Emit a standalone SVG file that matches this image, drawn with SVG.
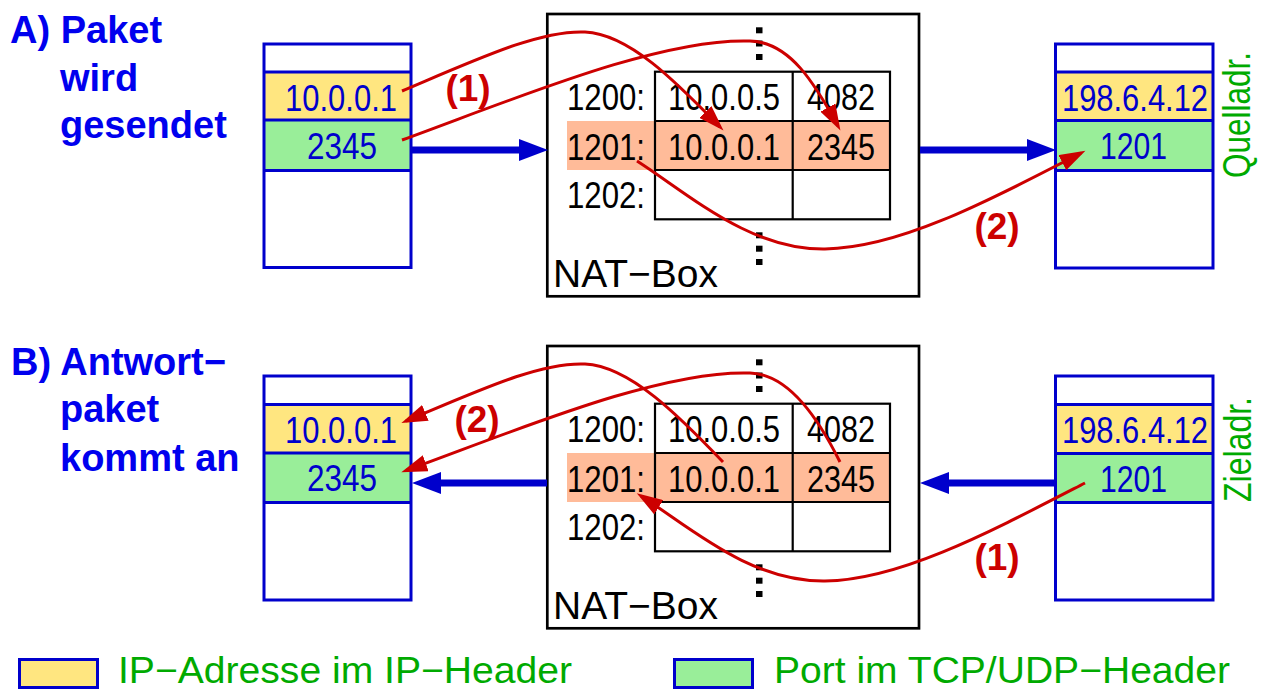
<svg xmlns="http://www.w3.org/2000/svg" width="1266" height="691" viewBox="0 0 1266 691">
  <defs>
    <style>
      .frame{fill:none;stroke:#0000cc;stroke-width:3}
      .sep{stroke:#0000cc;stroke-width:3}
      .ip{fill:#ffe680}
      .port{fill:#99ee99}
      .pv{font-family:"Liberation Sans",Arial,Helvetica,sans-serif;font-size:36px;fill:#0000cc}
      .box{fill:#ffffff;stroke:#000000;stroke-width:2.7}
      .tbl{fill:none;stroke:#000000;stroke-width:2.2}
      .hit{fill:#ffbb99}
      .tv{font-family:"Liberation Sans",Arial,Helvetica,sans-serif;font-size:36px;fill:#000000}
      .boxname{font-family:"Liberation Sans",Arial,Helvetica,sans-serif;font-size:38px;fill:#000000}
      .dot{fill:#000000}
      .title{font-family:"Liberation Sans",Arial,Helvetica,sans-serif;font-size:38px;font-weight:bold;fill:#0000ee}
      .side{font-family:"Liberation Sans",Arial,Helvetica,sans-serif;font-size:38px;fill:#00aa00}
      .legend{font-family:"Liberation Sans",Arial,Helvetica,sans-serif;font-size:37px;fill:#00aa00}
      .flow{fill:none;stroke:#0000cc;stroke-width:7}
      .map{fill:none;stroke:#cc0000;stroke-width:3}
      .step{font-family:"Liberation Sans",Arial,Helvetica,sans-serif;font-size:37px;font-weight:bold;fill:#cc0000;text-anchor:middle}
    </style>
    <marker id="blueHead" markerUnits="userSpaceOnUse" markerWidth="29" markerHeight="22" refX="0" refY="11" orient="auto-start-reverse" viewBox="0 0 29 22">
      <path d="M0,0 L29,11 L0,22 Z" fill="#0000cc"/>
    </marker>
    <marker id="redHead" markerUnits="userSpaceOnUse" markerWidth="27" markerHeight="17" refX="21" refY="8.5" orient="auto-start-reverse" viewBox="0 0 27 17">
      <path d="M0,0 L26,8.5 L0,17 Z" fill="#cc0000"/>
    </marker>
  </defs>

  <rect width="1266" height="691" fill="#ffffff"/>

  <!-- section titles -->
  <g id="title-a">
    <text class="title" x="10" y="43">A) Paket</text>
    <text class="title" x="60" y="91">wird</text>
    <text class="title" x="60" y="138">gesendet</text>
  </g>
  <g id="title-b">
    <text class="title" x="11" y="375">B) Antwort−</text>
    <text class="title" x="60" y="422">paket</text>
    <text class="title" x="60" y="471">kommt an</text>
  </g>

  <!-- A: outgoing packet, private side -->
  <g id="packet-a-inside">
    <rect class="ip" x="264" y="72" width="147" height="48"/>
    <rect class="port" x="264" y="120" width="147" height="50"/>
    <rect class="frame" x="264" y="44" width="147" height="223.5"/>
    <line class="sep" x1="264" y1="72" x2="411" y2="72"/>
    <line class="sep" x1="264" y1="120" x2="411" y2="120"/>
    <line class="sep" x1="264" y1="170.5" x2="411" y2="170.5"/>
    <text class="pv" x="285" y="111" textLength="112" lengthAdjust="spacingAndGlyphs">10.0.0.1</text>
    <text class="pv" x="307" y="159" textLength="70" lengthAdjust="spacingAndGlyphs">2345</text>
  </g>

  <!-- A: NAT translation table -->
  <g id="nat-a">
    <rect class="box" x="547.3" y="14" width="371.7" height="282.3"/>
    <rect class="hit" x="567" y="121" width="323" height="49"/>
    <rect class="tbl" x="655" y="71.7" width="235" height="147.6"/>
    <line class="tbl" x1="792.7" y1="71.7" x2="792.7" y2="219.3"/>
    <line class="tbl" x1="655" y1="121" x2="890" y2="121"/>
    <line class="tbl" x1="655" y1="170" x2="890" y2="170"/>
    <text class="tv" x="567" y="110" textLength="78" lengthAdjust="spacingAndGlyphs">1200:</text>
    <text class="tv" x="567" y="160" textLength="78" lengthAdjust="spacingAndGlyphs">1201:</text>
    <text class="tv" x="567" y="208" textLength="78" lengthAdjust="spacingAndGlyphs">1202:</text>
    <text class="tv" x="668" y="110" textLength="112" lengthAdjust="spacingAndGlyphs">10.0.0.5</text>
    <text class="tv" x="807" y="110" textLength="68" lengthAdjust="spacingAndGlyphs">4082</text>
    <text class="tv" x="668" y="160" textLength="112" lengthAdjust="spacingAndGlyphs">10.0.0.1</text>
    <text class="tv" x="807" y="160" textLength="68" lengthAdjust="spacingAndGlyphs">2345</text>
    <rect class="dot" x="756" y="27.3" width="6.5" height="6"/>
    <rect class="dot" x="756" y="40.5" width="6.5" height="6"/>
    <rect class="dot" x="756" y="54" width="6.5" height="6"/>
    <rect class="dot" x="756" y="232.3" width="6.5" height="6"/>
    <rect class="dot" x="756" y="245.7" width="6.5" height="6"/>
    <rect class="dot" x="756" y="259" width="6.5" height="6"/>
    <text class="boxname" x="553" y="287" textLength="165" lengthAdjust="spacingAndGlyphs">NAT−Box</text>
  </g>

  <!-- A: outgoing packet, public side -->
  <g id="packet-a-outside">
    <rect class="ip" x="1055.5" y="72" width="157.5" height="48.5"/>
    <rect class="port" x="1055.5" y="120.5" width="157.5" height="50"/>
    <rect class="frame" x="1055.5" y="44" width="157.5" height="224"/>
    <line class="sep" x1="1055.5" y1="72" x2="1213" y2="72"/>
    <line class="sep" x1="1055.5" y1="120.5" x2="1213" y2="120.5"/>
    <line class="sep" x1="1055.5" y1="170.5" x2="1213" y2="170.5"/>
    <text class="pv" x="1062" y="111" textLength="146" lengthAdjust="spacingAndGlyphs">198.6.4.12</text>
    <text class="pv" x="1100" y="159" textLength="67" lengthAdjust="spacingAndGlyphs">1201</text>
    <text class="side" transform="translate(1250,178) rotate(-90)" textLength="126" lengthAdjust="spacingAndGlyphs">Quelladr.</text>
  </g>

  <!-- B: reply packet, private side -->
  <g id="packet-b-inside">
    <rect class="ip" x="264" y="404.5" width="147" height="48.5"/>
    <rect class="port" x="264" y="453" width="147" height="49.5"/>
    <rect class="frame" x="264" y="376" width="147" height="224"/>
    <line class="sep" x1="264" y1="404.5" x2="411" y2="404.5"/>
    <line class="sep" x1="264" y1="453" x2="411" y2="453"/>
    <line class="sep" x1="264" y1="502.5" x2="411" y2="502.5"/>
    <text class="pv" x="285" y="443" textLength="112" lengthAdjust="spacingAndGlyphs">10.0.0.1</text>
    <text class="pv" x="307" y="491" textLength="70" lengthAdjust="spacingAndGlyphs">2345</text>
  </g>

  <!-- B: NAT translation table -->
  <g id="nat-b" transform="translate(0,332)">
    <rect class="box" x="547.3" y="14" width="371.7" height="282.3"/>
    <rect class="hit" x="567" y="121" width="323" height="49"/>
    <rect class="tbl" x="655" y="71.7" width="235" height="147.6"/>
    <line class="tbl" x1="792.7" y1="71.7" x2="792.7" y2="219.3"/>
    <line class="tbl" x1="655" y1="121" x2="890" y2="121"/>
    <line class="tbl" x1="655" y1="170" x2="890" y2="170"/>
    <text class="tv" x="567" y="110" textLength="78" lengthAdjust="spacingAndGlyphs">1200:</text>
    <text class="tv" x="567" y="160" textLength="78" lengthAdjust="spacingAndGlyphs">1201:</text>
    <text class="tv" x="567" y="208" textLength="78" lengthAdjust="spacingAndGlyphs">1202:</text>
    <text class="tv" x="668" y="110" textLength="112" lengthAdjust="spacingAndGlyphs">10.0.0.5</text>
    <text class="tv" x="807" y="110" textLength="68" lengthAdjust="spacingAndGlyphs">4082</text>
    <text class="tv" x="668" y="160" textLength="112" lengthAdjust="spacingAndGlyphs">10.0.0.1</text>
    <text class="tv" x="807" y="160" textLength="68" lengthAdjust="spacingAndGlyphs">2345</text>
    <rect class="dot" x="756" y="27.3" width="6.5" height="6"/>
    <rect class="dot" x="756" y="40.5" width="6.5" height="6"/>
    <rect class="dot" x="756" y="54" width="6.5" height="6"/>
    <rect class="dot" x="756" y="232.3" width="6.5" height="6"/>
    <rect class="dot" x="756" y="245.7" width="6.5" height="6"/>
    <rect class="dot" x="756" y="259" width="6.5" height="6"/>
    <text class="boxname" x="553" y="287" textLength="165" lengthAdjust="spacingAndGlyphs">NAT−Box</text>
  </g>

  <!-- B: reply packet, public side -->
  <g id="packet-b-outside">
    <rect class="ip" x="1055.5" y="404.5" width="157.5" height="49"/>
    <rect class="port" x="1055.5" y="453.5" width="157.5" height="49"/>
    <rect class="frame" x="1055.5" y="376" width="157.5" height="224"/>
    <line class="sep" x1="1055.5" y1="404.5" x2="1213" y2="404.5"/>
    <line class="sep" x1="1055.5" y1="453.5" x2="1213" y2="453.5"/>
    <line class="sep" x1="1055.5" y1="502.5" x2="1213" y2="502.5"/>
    <text class="pv" x="1062" y="443" textLength="146" lengthAdjust="spacingAndGlyphs">198.6.4.12</text>
    <text class="pv" x="1100" y="492" textLength="67" lengthAdjust="spacingAndGlyphs">1201</text>
    <text class="side" transform="translate(1251,502) rotate(-90)" textLength="105" lengthAdjust="spacingAndGlyphs">Zieladr.</text>
  </g>

  <!-- packet flow and field mappings -->
  <g id="connectors">
    <line class="flow" x1="412" y1="150" x2="519" y2="150" marker-end="url(#blueHead)"/>
    <line class="flow" x1="920" y1="150" x2="1027" y2="150" marker-end="url(#blueHead)"/>
    <line class="flow" x1="547" y1="483" x2="441" y2="483" marker-end="url(#blueHead)"/>
    <line class="flow" x1="1055" y1="483" x2="949" y2="483" marker-end="url(#blueHead)"/>

    <path class="map" d="M402,91 C480,58 540,30 585,32 C630,34 678,84 720,127" marker-end="url(#redHead)"/>
    <path class="map" d="M402,140 C520,97 660,38 750,41 C790,42 815,84 838,126" marker-end="url(#redHead)"/>
    <path class="map" d="M637,161 C690,195 750,250 825,249 C900,248 990,200 1081,153" marker-end="url(#redHead)"/>

    <path class="map" d="M406,421 C480,390 540,362 585,364 C630,366 680,417 723,462" marker-start="url(#redHead)"/>
    <path class="map" d="M406,470.5 C520,429 660,370 750,373 C790,374 820,422 840,462" marker-start="url(#redHead)"/>
    <path class="map" d="M641,496 C690,527 750,582 825,581 C900,580 990,532 1085,483" marker-start="url(#redHead)"/>

    <text class="step" x="468" y="101">(1)</text>
    <text class="step" x="997" y="239">(2)</text>
    <text class="step" x="477" y="432">(2)</text>
    <text class="step" x="997" y="570">(1)</text>
  </g>

  <!-- legend -->
  <g id="legend">
    <rect x="19.5" y="659.5" width="78" height="28" fill="#ffe680" stroke="#0000cc" stroke-width="3"/>
    <text class="legend" x="118" y="683" textLength="454" lengthAdjust="spacingAndGlyphs">IP−Adresse im IP−Header</text>
    <rect x="674.5" y="659.5" width="78" height="28" fill="#99ee99" stroke="#0000cc" stroke-width="3"/>
    <text class="legend" x="774" y="683" textLength="456" lengthAdjust="spacingAndGlyphs">Port im TCP/UDP−Header</text>
  </g>
</svg>
